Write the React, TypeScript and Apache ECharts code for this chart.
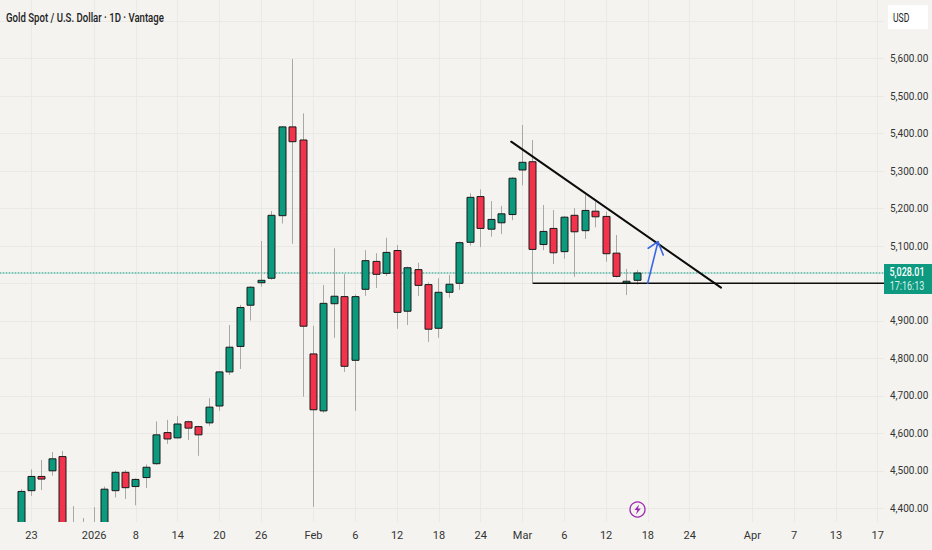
import React, { useEffect, useRef } from "react";
import * as echarts from "echarts";

const title = "Gold Spot / U.S. Dollar · 1D · Vantage";
const opens = [4320,4447,4485,4500,4538,4340,4345,4350,4330,4447,4496,4458,4482,4519,4602,4588,4631,4618,4628,4673,4764,4832,4942,5002,5014,5181,5418,5383,4812,4660,4946,4965,4795,4984.5,5059,5027,5088,4926,5037,4997,4880.5,4976.5,5000.5,5110,5232,5145,5162,5184,5303,5325,5104,5147,5085,5182,5141,5193,5179,5081,5000.5,5008.5];
const closes = [4445,4485,4478,4532,4320,4320,4325,4330,4451,4496,4455,4477,4509.5,4596,4585,4625,4614,4596,4670,4764,4830,4936,4990,5008.5,5182,5418,5378.5,4886,4663,4947,4966,4779,4965,5061,5024.5,5083,4923,5042,4995,4878,4976.5,4998,5109,5230,5147,5171,5186,5281,5323.5,5091,5139,5082,5177,5138,5195,5178,5079.5,5019,5006,5028.01];
const lows = [4300,4433,4449,4487,4300,4300,4310,4310,4310,4429,4425,4408,4454,4516,4572,4586,4582,4540,4620,4660,4756,4772,4901,4991.5,5010,5160,5106,4698,4404,4655,4855,4764,4660,4967,4988,5020,4879,4889,4967,4844,4855,4962,4983,5101,5097,5125,5132,5169,5262,5000.5,5089,5052,5066,5018,5119,5150,5058,5016,4969,4997];
const highs = [4451,4504,4529,4550,4553,4406,4374,4403,4458,4500,4502,4480,4517,4632,4636,4646,4634,4620,4694,4766,4889,4943,4993,5113.5,5193.5,5420,5599,5454,4887,4996,5094,5025,4971,5089,5081,5122,5103,5045,5055.5,5003,5014,5023,5112,5241,5251,5220,5207,5284,5423,5383,5209.5,5196,5180,5201,5236,5218,5192,5129.5,5039,5036];

const xTickIndexes = [1,7,11,15,19,23,28,32,36,40,44,48,52,56,60,64,70,74,78,82];
const xTickLabels = ["23","2026","8","14","20","26","Feb","6","12","18","24","Mar","6","12","18","24","Apr","7","13","17"];
const yGridValues = [4400,4500,4600,4700,4800,4900,5000,5100,5200,5300,5400,5500,5600,5700];
const yLabelValues = [4400,4500,4600,4700,4800,4900,5100,5200,5300,5400,5500,5600];

const lastPrice = 5028.01;
const lastPriceLabel = "5,028.01";
const countdownLabel = "17:16:13";
const currency = "USD";

const resistanceLine = [[46.92,5378.5],[67.0,4989]];
const supportLine = [[49.03,5000.5],[82.6,5000.5]];
const arrowShaft = [[59.98,5000.5],[60.97,5111.6]];
const arrowHead = [[60.03,5094],[60.97,5111.6],[61.47,5076]];

const X_MIN = -2.01;
const X_MAX = 82.6;
const Y_MIN = 4363.4;
const Y_MAX = 5756.7;

const FONT = "Roboto, 'Liberation Sans', sans-serif";
const BG = "#f4f3f0";
const GRID = "#e9e9e5";
const UP = "#0b9a7d";
const DOWN = "#f2334b";
const WICK = "#a8a8a5";
const EDGE = "#1a1a1a";

function lineSeries(data: number[][], color: string, width: number, type: any = "solid") {
  return {
    type: "line",
    data,
    showSymbol: false,
    symbol: "none",
    silent: true,
    z: 5,
    lineStyle: { color, width, type, cap: "round", join: "round" },
  };
}

function renderCandle(_: any, api: any) {
  const i = api.value(0);
  const o = api.value(1);
  const c = api.value(2);
  const l = api.value(3);
  const h = api.value(4);
  const cx = Math.round(api.coord([i, o])[0] - 0.5);
  const yTop = api.coord([i, Math.max(o, c)])[1];
  const yBot = api.coord([i, Math.min(o, c)])[1];
  const yHigh = api.coord([i, h])[1];
  const yLow = api.coord([i, l])[1];
  return {
    type: "group",
    children: [
      { type: "line", shape: { x1: cx + 0.5, y1: yHigh, x2: cx + 0.5, y2: yLow }, style: { stroke: WICK, lineWidth: 1 } },
      {
        type: "rect",
        shape: { x: cx - 3, y: yTop, width: 7, height: yBot - yTop },
        style: { fill: c >= o ? UP : DOWN, stroke: EDGE, lineWidth: 1 },
      },
    ],
  };
}

export default function App() {
  const ref = useRef<HTMLDivElement>(null);
  useEffect(() => {
    const chart = echarts.init(ref.current!, undefined, { renderer: "svg" });
    chart.setOption({
      animation: false,
      backgroundColor: BG,
      textStyle: { fontFamily: FONT },
      grid: { left: 0, right: 48, top: 0, bottom: 28, outerBoundsMode: "none" },
      xAxis: {
        type: "value",
        min: X_MIN,
        max: X_MAX,
        axisLine: { show: false },
        axisTick: { show: false, customValues: xTickIndexes },
        splitLine: { show: true, lineStyle: { color: GRID, width: 1 } },
        axisLabel: {
          customValues: xTickIndexes,
          margin: 8,
          color: "#333",
          fontFamily: FONT,
          fontSize: 11,
          hideOverlap: false,
          formatter: (v: number) => xTickLabels[xTickIndexes.indexOf(Math.round(v))] ?? "",
        },
      },
      yAxis: {
        type: "value",
        position: "right",
        min: Y_MIN,
        max: Y_MAX,
        axisLine: { show: false },
        axisTick: { show: false, customValues: yGridValues },
        splitLine: { show: true, lineStyle: { color: GRID, width: 1 } },
        axisLabel: {
          customValues: yLabelValues,
          margin: 6,
          color: "#333",
          fontFamily: FONT,
          fontSize: 10,
          padding: [0, 0, 3, 0],
          formatter: (v: number) => v.toLocaleString("en-US", { minimumFractionDigits: 2, maximumFractionDigits: 2 }),
        },
      },
      series: [
        { ...lineSeries([[X_MIN, lastPrice], [X_MAX, lastPrice]], "#089981", 1, [1, 2]), z: 1 },
        {
          type: "custom",
          name: "XAUUSD",
          clip: true,
          silent: true,
          z: 3,
          renderItem: renderCandle,
          encode: { x: 0, y: [1, 2, 3, 4] },
          data: opens.map((o, i) => [i, o, closes[i], lows[i], highs[i]]),
        },
        lineSeries(resistanceLine, "#0c0c0c", 2),
        lineSeries(supportLine, "#0c0c0c", 1.5),
        lineSeries(arrowShaft, "#3a66e6", 1.6),
        lineSeries(arrowHead, "#3a66e6", 1.6),
      ],
      graphic: [
        { type: "text", z: 11, x: 6, y: 17, scaleX: 0.74, style: { text: title, fill: "#222", font: `500 13px ${FONT}`, textVerticalAlign: "middle" } },
        { type: "rect", z: 10, shape: { x: 884, y: 264, width: 48, height: 30 }, style: { fill: "#0d9a80" } },
        { type: "text", z: 11, x: 907, y: 272, scaleX: 0.72, style: { text: lastPriceLabel, fill: "#fff", font: `500 12.5px ${FONT}`, textAlign: "center", textVerticalAlign: "middle" } },
        { type: "text", z: 11, x: 907, y: 286, scaleX: 0.72, style: { text: countdownLabel, fill: "#d8f0ea", font: `12.5px ${FONT}`, textAlign: "center", textVerticalAlign: "middle" } },
        { type: "rect", z: 10, shape: { x: 888, y: 5, width: 40, height: 24 }, style: { fill: "#ffffff" } },
        { type: "text", z: 11, x: 893, y: 18, scaleX: 0.72, style: { text: currency, fill: "#222", font: `12px ${FONT}`, textVerticalAlign: "middle" } },
        { type: "circle", z: 10, shape: { cx: 637.5, cy: 509.5, r: 7.5 }, style: { fill: "none", stroke: "#9c27b0", lineWidth: 1.3 } },
        { type: "polygon", z: 10, shape: { points: [[639, 504.5], [634.5, 510], [637.3, 510], [636, 514.5], [640.8, 508.6], [638, 508.6]] }, style: { fill: "#9c27b0" } },
      ],
    });
    return () => chart.dispose();
  }, []);
  return <div ref={ref} style={{ position: "fixed", left: 0, top: 0, width: 932, height: 550 }} />;
}
